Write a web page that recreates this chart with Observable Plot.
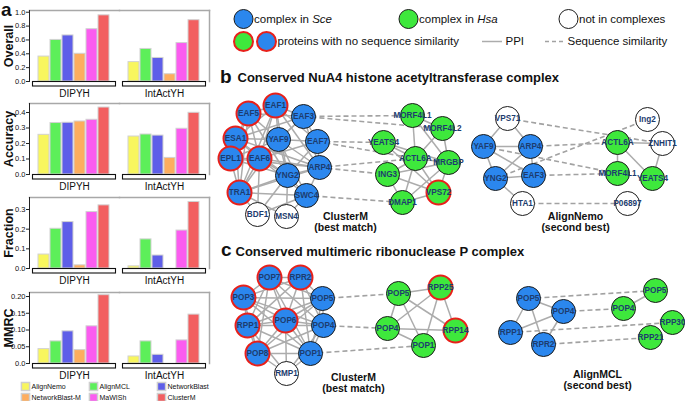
<!DOCTYPE html>
<html><head><meta charset="utf-8">
<script src="https://cdn.jsdelivr.net/npm/d3@7"></script>
<script src="https://cdn.jsdelivr.net/npm/@observablehq/plot@0.6"></script>
<style>
body{margin:0;background:#fff;}
#chart{position:relative;width:685px;height:401px;overflow:hidden;background:#fff;}
</style></head><body><div id="chart"></div>
<script>
const FONT = '"Liberation Sans", Arial, Helvetica, sans-serif';

// ---------------- panel a: data ----------------
const methods = ["AlignNemo", "AlignMCL", "NetworkBlast", "NetworkBlast-M", "MaWISh", "ClusterM"];
const datasets = ["DIPYH", "IntActYH"];
const methodColors = ["#f8f65e", "#5def5a", "#5e5ee8", "#fdad5e", "#fb5cf0", "#f25f60"];

const overallDIPYH = [0.36, 0.60, 0.665, 0.40, 0.755, 0.955];
const overallIntActYH = [0.28, 0.47, 0.34, 0.105, 0.555, 0.885];
const accuracyDIPYH = [0.256, 0.332, 0.334, 0.342, 0.353, 0.432];
const accuracyIntActYH = [0.245, 0.258, 0.251, 0.107, 0.295, 0.398];
const fractionDIPYH = [0.071, 0.202, 0.236, 0.016, 0.287, 0.321];
const fractionIntActYH = [0.011, 0.148, 0.066, 0, 0.193, 0.338];
const mmrcDIPYH = [0.043, 0.066, 0.096, 0.04, 0.111, 0.204];
const mmrcIntActYH = [0.021, 0.066, 0.026, 0, 0.069, 0.146];

const overallTicks = [0, 0.2, 0.4, 0.6, 0.8, 1.0];
const overallTickLabels = ["0.0", "0.2", "0.4", "0.6", "0.8", "1.0"];
const accuracyTicks = [0, 0.1, 0.2, 0.3, 0.4];
const accuracyTickLabels = ["0.0", "0.1", "0.2", "0.3", "0.4"];
const fractionTicks = [0, 0.1, 0.2, 0.3];
const fractionTickLabels = ["0.0", "0.1", "0.2", "0.3"];
const mmrcTicks = [0, 0.05, 0.10, 0.15, 0.20];
const mmrcTickLabels = ["0.0", "0.05", "0.10", "0.15", "0.20"];

// ---------------- panels b, c: networks ----------------
// node ids: "s:" = S. cerevisiae protein, "h:" = H. sapiens protein
const networks = ["bClusterM", "bAlignNemo", "cClusterM", "cAlignMCL"];
const networkCaptions = {
  bClusterM: ["ClusterM", "(best match)"],
  bAlignNemo: ["AlignNemo", "(second best)"],
  cClusterM: ["ClusterM", "(best match)"],
  cAlignMCL: ["AlignMCL", "(second best)"]
};
const notInComplex = {
  bClusterM: ["s:BDF1", "s:MSN4"],
  bAlignNemo: ["s:VPS71", "s:HTA1", "h:Ing2", "h:ZNHIT1", "h:P06897"],
  cClusterM: ["s:RMP1"],
  cAlignMCL: []
};
const noSeqSimilarity = {
  bClusterM: ["s:EAF1", "s:EAF5", "s:ESA1", "s:EPL1", "s:EAF6", "s:TRA1", "h:VPS72"],
  bAlignNemo: [],
  cClusterM: ["s:POP7", "s:RPR2", "s:POP3", "s:RPP1", "s:POP6", "s:POP8", "h:RPP25", "h:RPP14"],
  cAlignMCL: []
};
const ppiEdges = {
  bClusterM: [
    ["s:EAF1","s:EAF5"],["s:EAF1","s:EAF3"],["s:EAF1","s:YAF9"],["s:EAF1","s:ESA1"],["s:EAF1","s:EAF6"],["s:EAF1","s:YNG2"],["s:EAF1","s:ARP4"],["s:EAF1","s:EAF7"],["s:EAF1","s:TRA1"],
    ["s:EAF5","s:ESA1"],["s:EAF5","s:YAF9"],["s:EAF5","s:EAF6"],["s:EAF5","s:EPL1"],["s:EAF5","s:EAF3"],["s:EAF5","s:YNG2"],["s:EAF5","s:TRA1"],
    ["s:EAF3","s:YAF9"],["s:EAF3","s:EAF7"],["s:EAF3","s:ARP4"],["s:EAF3","s:ESA1"],["s:EAF3","s:EAF6"],
    ["s:ESA1","s:YAF9"],["s:ESA1","s:EPL1"],["s:ESA1","s:EAF6"],["s:ESA1","s:YNG2"],["s:ESA1","s:TRA1"],["s:ESA1","s:ARP4"],
    ["s:YAF9","s:EAF7"],["s:YAF9","s:EAF6"],["s:YAF9","s:YNG2"],["s:YAF9","s:ARP4"],["s:YAF9","s:SWC4"],["s:YAF9","s:TRA1"],["s:YAF9","s:EPL1"],
    ["s:EAF7","s:ARP4"],["s:EAF7","s:YNG2"],["s:EAF7","s:EAF6"],
    ["s:EPL1","s:EAF6"],["s:EPL1","s:TRA1"],["s:EPL1","s:YNG2"],["s:EPL1","s:ARP4"],
    ["s:EAF6","s:YNG2"],["s:EAF6","s:TRA1"],["s:EAF6","s:SWC4"],["s:EAF6","s:ARP4"],
    ["s:YNG2","s:ARP4"],["s:YNG2","s:SWC4"],["s:YNG2","s:TRA1"],["s:YNG2","s:MSN4"],["s:YNG2","s:BDF1"],
    ["s:ARP4","s:SWC4"],["s:ARP4","s:TRA1"],["s:TRA1","s:SWC4"],["s:TRA1","s:BDF1"],["s:TRA1","s:MSN4"],
    ["s:SWC4","s:BDF1"],["s:SWC4","s:MSN4"],["s:EAF6","s:BDF1"],
    ["h:MORF4L1","h:MORF4L2"],["h:MORF4L1","h:ACTL6A"],["h:MORF4L1","h:MRGBP"],["h:MORF4L2","h:ACTL6A"],["h:MORF4L2","h:MRGBP"],
    ["h:YEATS4","h:ACTL6A"],["h:YEATS4","h:MRGBP"],["h:YEATS4","h:VPS72"],["h:ACTL6A","h:MRGBP"],["h:ACTL6A","h:ING3"],
    ["h:ACTL6A","h:VPS72"],["h:ACTL6A","h:DMAP1"],["h:MRGBP","h:VPS72"],["h:MRGBP","h:ING3"],["h:ING3","h:VPS72"],
    ["h:ING3","h:DMAP1"],["h:DMAP1","h:VPS72"],["h:MRGBP","h:DMAP1"]
  ],
  bAlignNemo: [
    ["s:VPS71","s:YAF9"],["s:VPS71","s:ARP4"],["s:YAF9","s:ARP4"],["s:YAF9","s:YNG2"],["s:YAF9","s:EAF3"],
    ["s:ARP4","s:YNG2"],["s:ARP4","s:EAF3"],["s:YNG2","s:EAF3"],["s:YNG2","s:HTA1"],
    ["h:ACTL6A","h:ZNHIT1"],["h:ACTL6A","h:MORF4L1"],["h:ACTL6A","h:YEATS4"],["h:ZNHIT1","h:YEATS4"]
  ],
  cClusterM: [
    ["s:POP7","s:RPR2"],["s:POP7","s:POP3"],["s:POP7","s:POP5"],["s:POP7","s:RPP1"],["s:POP7","s:POP6"],["s:POP7","s:POP4"],["s:POP7","s:POP8"],["s:POP7","s:POP1"],
    ["s:RPR2","s:POP5"],["s:RPR2","s:POP3"],["s:RPR2","s:POP6"],["s:RPR2","s:POP4"],["s:RPR2","s:RPP1"],["s:RPR2","s:POP1"],
    ["s:POP3","s:RPP1"],["s:POP3","s:POP6"],["s:POP3","s:POP5"],["s:POP3","s:POP4"],["s:POP3","s:POP8"],["s:POP3","s:POP1"],
    ["s:POP5","s:POP4"],["s:POP5","s:POP6"],["s:POP5","s:RPP1"],["s:POP5","s:POP1"],["s:POP5","s:POP8"],
    ["s:RPP1","s:POP6"],["s:RPP1","s:POP4"],["s:RPP1","s:POP8"],["s:RPP1","s:POP1"],["s:RPP1","s:RMP1"],
    ["s:POP6","s:POP4"],["s:POP6","s:POP8"],["s:POP6","s:POP1"],["s:POP6","s:RMP1"],
    ["s:POP4","s:POP1"],["s:POP4","s:POP8"],["s:POP4","s:RMP1"],["s:POP8","s:POP1"],["s:POP8","s:RMP1"],["s:POP1","s:RMP1"],
    ["h:POP5","h:RPP25"],["h:POP5","h:POP4"],["h:POP5","h:POP1"],["h:POP5","h:RPP14"],["h:RPP25","h:POP4"],
    ["h:RPP25","h:RPP14"],["h:RPP25","h:POP1"],["h:POP4","h:RPP14"],["h:POP4","h:POP1"]
  ],
  cAlignMCL: [
    ["s:POP5","s:POP4"],["s:POP5","s:RPP1"],["s:POP5","s:RPR2"],["s:POP4","s:RPP1"],["s:POP4","s:RPR2"],
    ["h:POP5","h:POP4"]
  ]
};
const seqSimEdges = {
  bClusterM: [["s:EAF3","h:MORF4L1"],["s:EAF3","h:MORF4L2"],["s:EAF7","h:YEATS4"],["s:EAF7","h:ACTL6A"],["s:ARP4","h:ACTL6A"],["s:ARP4","h:ING3"],["s:SWC4","h:DMAP1"]],
  bAlignNemo: [["s:VPS71","h:ZNHIT1"],["s:YAF9","h:MORF4L1"],["s:ARP4","h:ACTL6A"],["s:YNG2","h:Ing2"],["s:EAF3","h:MORF4L1"],["s:HTA1","h:P06897"]],
  cClusterM: [["s:POP5","h:POP5"],["s:POP4","h:POP4"],["s:POP1","h:POP1"]],
  cAlignMCL: [["s:POP5","h:POP5"],["s:POP4","h:POP4"],["s:RPP1","h:RPP30"],["s:RPR2","h:RPP21"]]
};

// ---------------- layout (pixel positions of the node-link drawings) ----------------
const networkLayout = {
  bClusterM: {
    "s:EAF1":[275,105],"s:EAF5":[248,113],"s:EAF3":[303,116],"s:ESA1":[235,138],"s:YAF9":[278,139],"s:EAF7":[317,141],
    "s:EPL1":[230,158],"s:EAF6":[259,158],"s:YNG2":[287,175],"s:ARP4":[319,167],"s:TRA1":[239,192],"s:SWC4":[306,195],
    "s:BDF1":[257,214],"s:MSN4":[286,216],
    "h:MORF4L1":[412,115],"h:MORF4L2":[442,128],"h:YEATS4":[383,142],"h:ACTL6A":[415,158],"h:MRGBP":[448,162],
    "h:ING3":[387,174],"h:VPS72":[438,192],"h:DMAP1":[402,202]
  },
  bAlignNemo: {
    "s:VPS71":[507,118],"s:YAF9":[483,146],"s:ARP4":[530,146],"s:YNG2":[495,178],"s:EAF3":[533,175],"s:HTA1":[522,203],
    "h:Ing2":[647,119],"h:ACTL6A":[617,142],"h:ZNHIT1":[662,143],"h:MORF4L1":[617,173],"h:YEATS4":[652,178],"h:P06897":[627,203]
  },
  cClusterM: {
    "s:POP7":[269,277],"s:RPR2":[300,277],"s:POP3":[243,297],"s:POP5":[322,298],"s:RPP1":[247,325],"s:POP6":[285,320],
    "s:POP4":[323,325],"s:POP8":[257,353],"s:POP1":[310,353],"s:RMP1":[286,373],
    "h:POP5":[398,293],"h:RPP25":[440,287],"h:POP4":[387,328],"h:RPP14":[455,330],"h:POP1":[423,345]
  },
  cAlignMCL: {
    "s:POP5":[528,298],"s:POP4":[563,311],"s:RPP1":[510,332],"s:RPR2":[543,344],
    "h:POP5":[655,290],"h:POP4":[623,308],"h:RPP30":[672,322],"h:RPP21":[650,337]
  }
};
const captionLayout = {bClusterM:[345,216.5], bAlignNemo:[575,216.5], cClusterM:[353,377], cAlignMCL:[597,374]};

const panelLetters = ["a", "b", "c"];
const panelTitles = ["", "Conserved NuA4 histone acetyltransferase complex", "Conserved multimeric ribonuclease P complex"];
const letterLayout = [[0.5, 9], [219.5, 76.5], [220.5, 249]];
const titleLayout = [[0,0], [237, 77.5], [235, 251]];

const keyLabels = ["complex in Sce", "complex in Hsa", "not in complexes", "proteins with no sequence similarity", "PPI", "Sequence similarity"];

const colors = {sce: "#2b87ee", hsa: "#3ee83c", none: "#ffffff", red: "#e8201a", ring: "#1b1b1b", ppi: "#acacac", seq: "#a2a2a2", label: "#1d3c6e"};

// ---------------- panel a: bar charts ----------------
const barPanels = [
  {metric: "Overall", dip: overallDIPYH, intact: overallIntActYH, ticks: overallTicks, labels: overallTickLabels, yMax: 1.025, top: 0},
  {metric: "Accuracy", dip: accuracyDIPYH, intact: accuracyIntActYH, ticks: accuracyTicks, labels: accuracyTickLabels, yMax: 0.458, top: 93},
  {metric: "Fraction", dip: fractionDIPYH, intact: fractionIntActYH, ticks: fractionTicks, labels: fractionTickLabels, yMax: 0.361, top: 187},
  {metric: "MMRC", dip: mmrcDIPYH, intact: mmrcIntActYH, ticks: mmrcTicks, labels: mmrcTickLabels, yMax: 0.212, top: 282}
];

function barPanel(p) {
  const rows = [];
  methods.forEach((m, i) => {
    rows.push({dataset: datasets[0], method: m, value: p.dip[i]});
    rows.push({dataset: datasets[1], method: m, value: p.intact[i]});
  });
  const first = () => datasets[0];
  return Plot.plot({
    width: 215, height: 100,
    marginLeft: 29, marginRight: 6, marginTop: 10, marginBottom: 19,
    style: {position: "absolute", left: "0px", top: p.top + "px"},
    fx: {domain: datasets, padding: 0},
    x: {domain: methods, padding: 0.055, paddingOuter: 0.56, axis: null},
    y: {domain: [0, p.yMax], axis: null},
    color: {domain: methods, range: methodColors},
    marks: [
      Plot.barY(rows, {fx: "dataset", x: "method", y: "value", fill: "method", stroke: "#d2d2d2", strokeWidth: 1}),
      Plot.barY(datasets, {fx: d => d, y1: 0, y2: 0, insetTop: 0.5, insetBottom: -5, insetLeft: 3.5, insetRight: 3.5, fill: "white", stroke: "#111", strokeWidth: 1.1}),
      Plot.frame({anchor: "top", stroke: "#a8a8a8", strokeWidth: 1.5}),
      Plot.frame({anchor: "right", facetAnchor: "right", stroke: "#a8a8a8", strokeWidth: 1.5}),
      Plot.frame({anchor: "left", facetAnchor: "left", stroke: "#222"}),
      Plot.axisFx({anchor: "bottom", tickSize: 0, tickPadding: 8, fontSize: 10, fontFamily: FONT, fill: "#111", label: null}),
      Plot.text([p.metric], {fx: first, frameAnchor: "left", textAnchor: "middle", rotate: -90, dx: -21, fontSize: 12.5, fontWeight: "bold", fontFamily: FONT, fill: "#111"})
    ]
  });
}

// ---------------- network drawing ----------------
const nodeRows = [], ppiRows = [], seqRows = [], captionRows = [];
for (const net of networks) {
  const pos = networkLayout[net];
  for (const id of Object.keys(pos)) {
    const inCx = !notInComplex[net].includes(id);
    nodeRows.push({
      name: id.slice(2), x: pos[id][0], y: pos[id][1],
      fill: !inCx ? colors.none : (id[0] === "s" ? colors.sce : colors.hsa),
      noSim: noSeqSimilarity[net].includes(id)
    });
  }
  for (const [a, b] of ppiEdges[net]) ppiRows.push({x1: pos[a][0], y1: pos[a][1], x2: pos[b][0], y2: pos[b][1]});
  for (const [a, b] of seqSimEdges[net]) seqRows.push({x1: pos[a][0], y1: pos[a][1], x2: pos[b][0], y2: pos[b][1]});
  networkCaptions[net].forEach((t, i) => captionRows.push({text: t, x: captionLayout[net][0], y: captionLayout[net][1] + i * 11}));
}

// key (legend) at top right
const keyDots = [
  {x: 243, y: 18.5, fill: colors.sce, stroke: colors.ring, w: 1},
  {x: 408, y: 18.5, fill: colors.hsa, stroke: colors.ring, w: 1},
  {x: 568, y: 18.5, fill: colors.none, stroke: colors.ring, w: 1},
  {x: 243, y: 41, fill: colors.hsa, stroke: colors.red, w: 2},
  {x: 266, y: 41, fill: colors.sce, stroke: colors.red, w: 2}
];
const keyTextPos = [[253.5, 18.5], [418.5, 18.5], [578.5, 18.5], [277, 41], [505, 41], [567, 41]];
const keyText = keyLabels.map((t, i) => ({text: t, x: keyTextPos[i][0], y: keyTextPos[i][1]}));
const keyLines = [{x1: 482, x2: 502, y: 41, dash: null}, {x1: 545, x2: 563.5, y: 41, dash: "4,3"}];

const netPlot = Plot.plot({
  width: 685, height: 401, margin: 0,
  style: {position: "absolute", left: "0px", top: "0px", background: "transparent", fontFamily: FONT, color: "#111"},
  x: {domain: [0, 685], range: [0, 685], axis: null},
  y: {domain: [0, 401], range: [0, 401], axis: null},
  marks: [
    Plot.link(ppiRows, {x1: "x1", y1: "y1", x2: "x2", y2: "y2", stroke: colors.ppi, strokeWidth: 1.5}),
    Plot.link(seqRows, {x1: "x1", y1: "y1", x2: "x2", y2: "y2", stroke: colors.seq, strokeWidth: 1.6, strokeDasharray: "5,3"}),
    Plot.dot(nodeRows, {x: "x", y: "y", r: 12, fill: "fill", stroke: d => d.noSim ? colors.red : colors.ring, strokeWidth: d => d.noSim ? 2 : 1}),
    Plot.text(nodeRows, {x: "x", y: "y", text: "name", fill: colors.label, fontSize: 8.2, fontWeight: "bold"}),
    Plot.text(captionRows, {x: "x", y: "y", text: "text", fontSize: 10.5, fontWeight: "bold", fill: "#111"}),
    Plot.text(panelLetters, {x: (d, i) => letterLayout[i][0], y: (d, i) => letterLayout[i][1], text: d => d, textAnchor: "start", fontSize: 19, fontWeight: "bold", fill: "#111"}),
    Plot.text(panelTitles.slice(1), {x: (d, i) => titleLayout[i + 1][0], y: (d, i) => titleLayout[i + 1][1], text: d => d, textAnchor: "start", fontSize: 13, fontWeight: "bold", fill: "#111"}),
    Plot.ruleY(keyLines.filter(d => !d.dash), {x1: "x1", x2: "x2", y: "y", stroke: colors.ppi, strokeWidth: 1.5}),
    Plot.ruleY(keyLines.filter(d => d.dash), {x1: "x1", x2: "x2", y: "y", stroke: colors.seq, strokeWidth: 1.5, strokeDasharray: "4,3"}),
    Plot.dot(keyDots, {x: "x", y: "y", r: 9.5, fill: "fill", stroke: "stroke", strokeWidth: "w"}),
    Plot.text(keyText, {x: "x", y: "y", text: "text", textAnchor: "start", fontSize: 11.5, fill: "#111"})
  ]
});
// italic species names in the key
netPlot.querySelectorAll("text").forEach(t => {
  const m = t.textContent.match(/^(complex in )(Sce|Hsa)$/);
  if (m) {
    t.textContent = m[1];
    const ts = document.createElementNS("http://www.w3.org/2000/svg", "tspan");
    ts.setAttribute("font-style", "italic");
    ts.textContent = m[2];
    t.appendChild(ts);
  }
});

// legend of methods (bottom left)
const methodKey = Plot.plot({
  width: 215, height: 26, margin: 0,
  style: {position: "absolute", left: "0px", top: "379px", background: "transparent", fontFamily: FONT, color: "#111"},
  x: {type: "point", domain: [0, 1, 2], range: [24.5, 162], padding: 0, axis: null},
  y: {type: "point", domain: [0, 1], range: [6.5, 17.5], padding: 0, axis: null},
  color: {domain: methods, range: methodColors},
  marks: [
    Plot.dot(methods, {x: (d, i) => i % 3, y: (d, i) => Math.floor(i / 3), symbol: "square", r: 4.6, fill: d => d, stroke: "#cfcfcf"}),
    Plot.text(methods, {x: (d, i) => i % 3, y: (d, i) => Math.floor(i / 3), text: d => d, dx: 6, textAnchor: "start", fontSize: 7, fill: "#111"})
  ]
});

const root = document.getElementById("chart");
root.appendChild(netPlot);
const barSvgs = barPanels.map(p => { const s = barPanel(p); root.appendChild(s); return s; });
root.appendChild(methodKey);

// y-axis ticks of the bar panels, positioned through each panel's own y scale, drawn on top
const tickRows = [];
barPanels.forEach((p, k) => {
  const ys = barSvgs[k].scale("y");
  p.ticks.forEach((t, i) => tickRows.push({label: p.labels[i], y: p.top + ys.apply(t)}));
});
const tickPlot = Plot.plot({
  width: 29, height: 401, margin: 0,
  style: {position: "absolute", left: "0px", top: "0px", background: "transparent", fontFamily: FONT, color: "#111"},
  x: {domain: [0, 29], range: [0, 29], axis: null},
  y: {domain: [0, 401], range: [0, 401], axis: null},
  marks: [
    Plot.ruleY(tickRows, {y: "y", insetLeft: 26, stroke: "#222", strokeWidth: 1}),
    Plot.text(tickRows, {y: "y", text: "label", frameAnchor: "right", textAnchor: "end", dx: -4, fontSize: 7.5, fill: "#111"})
  ]
});
root.appendChild(tickPlot);
</script></body></html>
